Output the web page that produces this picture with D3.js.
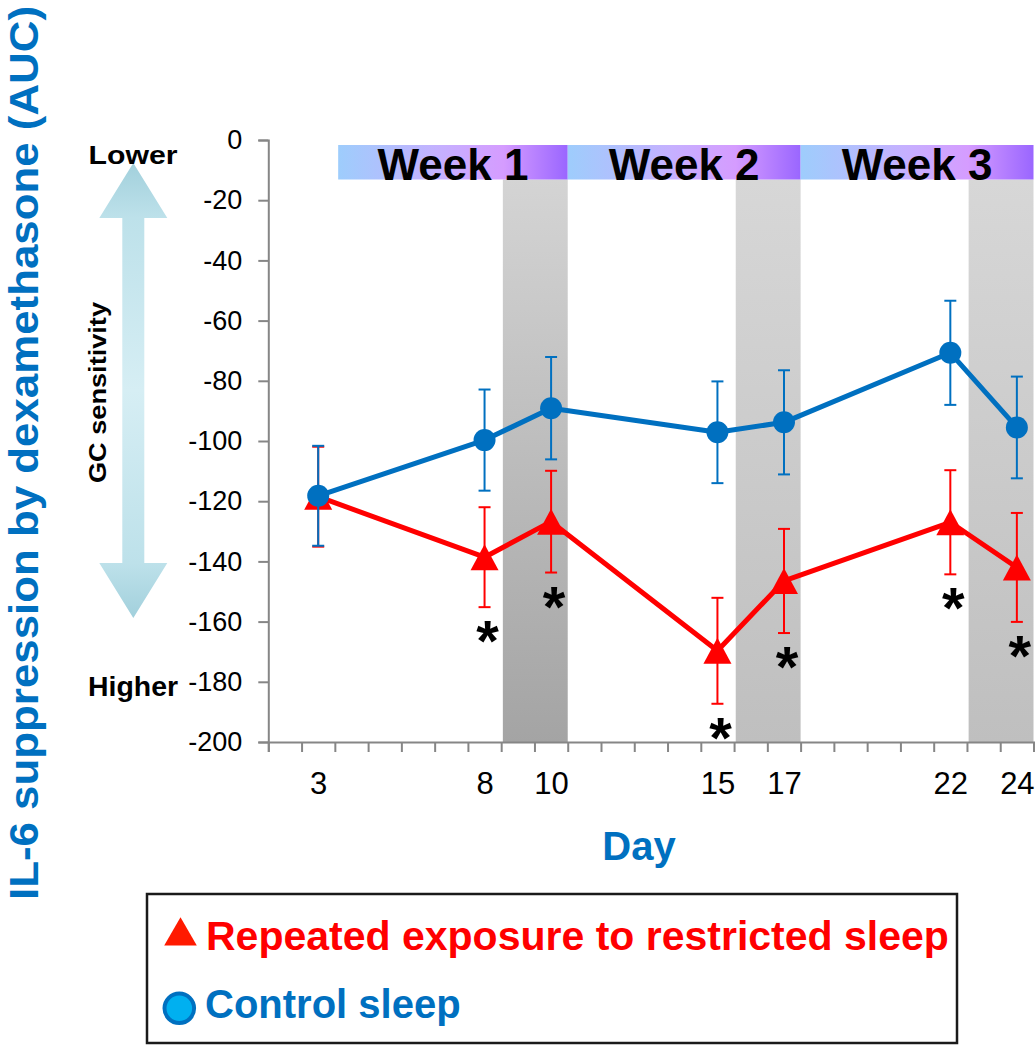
<!DOCTYPE html>
<html>
<head>
<meta charset="utf-8">
<script src="https://cdn.jsdelivr.net/npm/d3@7"></script>
<style>
  html, body { margin: 0; padding: 0; background: #fff; }
  svg { display: block; }
  text { font-family: "Liberation Sans", Arial, Helvetica, sans-serif; }
</style>
</head>
<body>
<div id="chart"></div>
<script>
// ---------- data ----------
const days = [3, 8, 10, 15, 17, 22, 24];
const control = [-118.2, -99.7, -89.1, -97.1, -93.8, -70.7, -95.5];
const controlErr = [16.6, 16.8, 17.0, 16.9, 17.3, 17.3, 16.9];
const restricted = [-118.5, -138.6, -126.8, -169.7, -146.5, -127.0, -142.0];
const restrictedErr = [16.6, 16.6, 16.9, 17.6, 17.3, 17.3, 18.1];
const sigDays = [8, 10, 15, 17, 22, 24];
const weekLabels = ["Week 1", "Week 2", "Week 3"];
const weekStarts = [3.6, 10.5, 17.5];
const weekEnds = [10.5, 17.5, 24.5];
const shadeStarts = [8.55, 15.55, 22.55];
const shadeEnds = [10.5, 17.5, 24.5];
const yTicks = [0, -20, -40, -60, -80, -100, -120, -140, -160, -180, -200];
const xTickDays = d3.range(1.5, 24.51, 1);

const W = 1035, H = 1050;
const BLUE = "#0070c0", RED = "#ff0000";
const FONT = "'Liberation Sans', Arial, Helvetica, sans-serif";

const svg = d3.select("#chart").append("svg")
  .attr("width", W).attr("height", H);

const defs = svg.append("defs");
const wg = defs.append("linearGradient").attr("id", "weekGrad").attr("x1", 0).attr("x2", 1).attr("y1", 0).attr("y2", 0);
[[0, "#9ecdfc"], [0.45, "#c6b0ff"], [0.72, "#d59cff"], [1, "#9a66ff"]].forEach(([o, c]) =>
  wg.append("stop").attr("offset", o).attr("stop-color", c));
const sg1 = defs.append("linearGradient").attr("id", "shade1").attr("x1", 0).attr("x2", 0).attr("y1", 0).attr("y2", 1);
sg1.append("stop").attr("offset", 0).attr("stop-color", "#d4d4d4");
sg1.append("stop").attr("offset", 1).attr("stop-color", "#a4a4a4");
const sg2 = defs.append("linearGradient").attr("id", "shade2").attr("x1", 0).attr("x2", 0).attr("y1", 0).attr("y2", 1);
sg2.append("stop").attr("offset", 0).attr("stop-color", "#d7d7d7");
sg2.append("stop").attr("offset", 1).attr("stop-color", "#bfbfbf");
const ag = defs.append("linearGradient").attr("id", "arrowGrad").attr("x1", 0).attr("x2", 0).attr("y1", 0).attr("y2", 1);
[[0, "#a2d0dc"], [0.12, "#bde1ea"], [0.5, "#d6eef4"], [0.88, "#bde1ea"], [1, "#a2d0dc"]].forEach(([o, c]) =>
  ag.append("stop").attr("offset", o).attr("stop-color", c));

// ---------- scales ----------
const x = d3.scaleLinear().domain([1.5, 24.5]).range([268.3, 1033.5]);
const y = d3.scaleLinear().domain([0, -200]).range([140, 742]);

const barTop = 145, barBottom = 179.5;

// shaded columns
svg.append("g").selectAll("rect").data(shadeStarts).join("rect")
  .attr("x", d => x(d))
  .attr("y", barBottom)
  .attr("width", (d, i) => x(shadeEnds[i]) - x(d))
  .attr("height", y(-200) - barBottom)
  .attr("fill", (d, i) => i === 0 ? "url(#shade1)" : "url(#shade2)");

// week bars
const wk = svg.append("g");
wk.selectAll("rect").data(weekStarts).join("rect")
  .attr("x", d => x(d))
  .attr("y", barTop)
  .attr("width", (d, i) => x(weekEnds[i]) - x(d))
  .attr("height", barBottom - barTop)
  .attr("fill", "url(#weekGrad)");
wk.selectAll("text").data(weekLabels).join("text")
  .attr("x", (d, i) => (x(weekStarts[i]) + x(weekEnds[i])) / 2)
  .attr("y", barBottom)
  .attr("text-anchor", "middle")
  .attr("font-size", 44).attr("font-weight", "bold").attr("fill", "#000")
  .text(d => d);

// ---------- axes ----------
const yAxis = svg.append("g").attr("transform", `translate(${x(1.5)},0)`)
  .call(d3.axisLeft(y).tickValues(yTicks).tickSize(10).tickPadding(16).tickFormat(d => String(d)));
yAxis.select(".domain").attr("stroke", "#868686").attr("stroke-width", 2);
yAxis.selectAll(".tick line").attr("stroke", "#868686").attr("stroke-width", 2);
yAxis.selectAll(".tick text").attr("font-size", 27).attr("fill", "#000").attr("font-family", FONT);

const xAxis = svg.append("g").attr("transform", `translate(0,${y(-200)})`)
  .call(d3.axisBottom(x).tickValues(xTickDays).tickSize(10).tickFormat(""));
xAxis.select(".domain").attr("stroke", "#868686").attr("stroke-width", 2);
xAxis.selectAll(".tick line").attr("stroke", "#868686").attr("stroke-width", 2);

const xLab = svg.append("g").attr("transform", `translate(0,${y(-200)})`)
  .call(d3.axisBottom(x).tickValues(days).tickSize(0).tickPadding(30).tickFormat(d => String(d)));
xLab.select(".domain").remove();
xLab.selectAll(".tick text").attr("font-size", 31).attr("fill", "#000").attr("font-family", FONT);

// ---------- series ----------
function drawSeries(vals, errs, color, marker) {
  const g = svg.append("g");
  const pts = days.map((d, i) => ({ d, v: vals[i], e: errs[i] }));
  const eb = g.append("g").attr("stroke", color).attr("stroke-width", 2).attr("fill", "none");
  pts.forEach(p => {
    eb.append("line").attr("x1", x(p.d)).attr("x2", x(p.d)).attr("y1", y(p.v + p.e)).attr("y2", y(p.v - p.e));
    eb.append("line").attr("x1", x(p.d) - 6).attr("x2", x(p.d) + 6).attr("y1", y(p.v + p.e)).attr("y2", y(p.v + p.e));
    eb.append("line").attr("x1", x(p.d) - 6).attr("x2", x(p.d) + 6).attr("y1", y(p.v - p.e)).attr("y2", y(p.v - p.e));
  });
  g.append("path").datum(pts)
    .attr("fill", "none").attr("stroke", color).attr("stroke-width", 5).attr("stroke-linejoin", "round")
    .attr("d", d3.line().x(p => x(p.d)).y(p => y(p.v)));
  if (marker === "circle") {
    g.selectAll("circle").data(pts).join("circle")
      .attr("cx", p => x(p.d)).attr("cy", p => y(p.v)).attr("r", 11).attr("fill", color);
  } else {
    g.selectAll("path.m").data(pts).join("path").attr("class", "m")
      .attr("d", p => {
        const cx = x(p.d), cy = y(p.v), hw = 14, hh = 13;
        return `M${cx},${cy - hh}L${cx + hw},${cy + hh}L${cx - hw},${cy + hh}Z`;
      })
      .attr("fill", color);
  }
}
drawSeries(restricted, restrictedErr, RED, "triangle");
drawSeries(control, controlErr, BLUE, "circle");

// significance asterisks
svg.append("g").selectAll("text").data(sigDays).join("text")
  .attr("x", d => x(d) + 3)
  .attr("y", d => {
    const i = days.indexOf(d);
    return y(restricted[i] - restrictedErr[i]) + 54;
  })
  .attr("text-anchor", "middle")
  .attr("font-size", 58).attr("font-weight", "bold").attr("fill", "#000")
  .text("*");

// ---------- GC sensitivity arrow ----------
const ax = 133.3;
const p = d3.path();
p.moveTo(ax, 163); p.lineTo(ax + 34, 218); p.lineTo(ax + 11, 218); p.lineTo(ax + 11, 563);
p.lineTo(ax + 34, 563); p.lineTo(ax, 618); p.lineTo(ax - 34, 563); p.lineTo(ax - 11, 563);
p.lineTo(ax - 11, 218); p.lineTo(ax - 34, 218); p.closePath();
svg.append("path").attr("d", p.toString()).attr("fill", "url(#arrowGrad)");

svg.append("text").attr("x", 133).attr("y", 164).attr("text-anchor", "middle")
  .attr("font-size", 26).attr("font-weight", "bold").attr("textLength", 89).attr("lengthAdjust", "spacingAndGlyphs")
  .text("Lower");
svg.append("text").attr("x", 133).attr("y", 696).attr("text-anchor", "middle")
  .attr("font-size", 27).attr("font-weight", "bold").attr("textLength", 90).attr("lengthAdjust", "spacingAndGlyphs")
  .text("Higher");
svg.append("text").attr("transform", "translate(106,392.5) rotate(-90)").attr("text-anchor", "middle")
  .attr("font-size", 24).attr("font-weight", "bold").attr("textLength", 181).attr("lengthAdjust", "spacingAndGlyphs")
  .text("GC sensitivity");

// ---------- titles ----------
svg.append("text").attr("transform", "translate(38,453) rotate(-90)").attr("text-anchor", "middle")
  .attr("font-size", 40).attr("font-weight", "bold").attr("fill", BLUE)
  .attr("textLength", 894).attr("lengthAdjust", "spacingAndGlyphs")
  .text("IL-6 suppression by dexamethasone (AUC)");
svg.append("text").attr("x", 639).attr("y", 860).attr("text-anchor", "middle")
  .attr("font-size", 40).attr("font-weight", "bold").attr("fill", BLUE)
  .text("Day");

// ---------- legend ----------
const lg = svg.append("g");
lg.append("rect").attr("x", 147).attr("y", 894).attr("width", 810).attr("height", 149)
  .attr("fill", "#fff").attr("stroke", "#1a1a1a").attr("stroke-width", 2.5);
lg.append("path").attr("d", d3.symbol(d3.symbolTriangle, 460)())
  .attr("transform", "translate(180.5,936)").attr("fill", "#ff1a00");
lg.append("text").attr("x", 206).attr("y", 950).attr("font-size", 41).attr("font-weight", "bold").attr("fill", RED)
  .text("Repeated exposure to restricted sleep");
lg.append("circle").attr("cx", 179.3).attr("cy", 1008.3).attr("r", 14.8)
  .attr("fill", "#00b0f0").attr("stroke", BLUE).attr("stroke-width", 4);
lg.append("text").attr("x", 205).attr("y", 1018).attr("font-size", 40).attr("font-weight", "bold").attr("fill", BLUE)
  .text("Control sleep");
</script>
</body>
</html>
